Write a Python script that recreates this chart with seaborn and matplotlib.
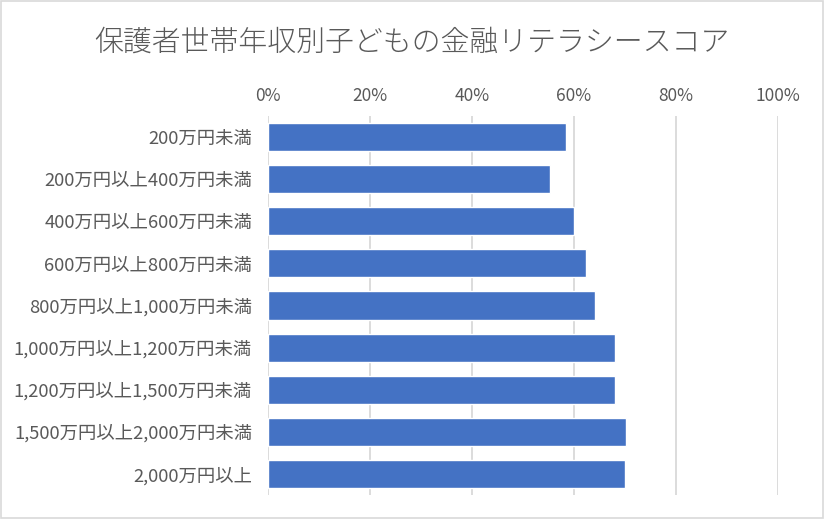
import pandas as pd
import seaborn as sns
import matplotlib.pyplot as plt
from matplotlib.ticker import PercentFormatter
from matplotlib.patches import Rectangle

# income brackets and scores
categories = [
    "200万円未満",
    "200万円以上400万円未満",
    "400万円以上600万円未満",
    "600万円以上800万円未満",
    "800万円以上1,000万円未満",
    "1,000万円以上1,200万円未満",
    "1,200万円以上1,500万円未満",
    "1,500万円以上2,000万円未満",
    "2,000万円以上",
]
scores = [0.584, 0.553, 0.600, 0.624, 0.641, 0.680, 0.680, 0.702, 0.700]
xticks = [0, 0.2, 0.4, 0.6, 0.8, 1.0]

df = pd.DataFrame({"bracket": categories, "score": scores})

sns.set_theme(style="white")
plt.rcParams['font.family'] = ['Noto Sans CJK JP', 'DejaVu Sans']

fig = plt.figure(figsize=(8.24, 5.19), dpi=100)
ax = fig.add_axes([268 / 824, 1 - 495 / 519, 510 / 824, 379 / 519])

sns.barplot(data=df, x="score", y="bracket", orient="h", color="#4472C4",
            saturation=1, width=0.67, ax=ax)

ax.set_xlim(0, 1)
ax.set_xticks(xticks)
ax.xaxis.set_major_formatter(PercentFormatter(1.0, decimals=0))
ax.xaxis.tick_top()
ax.grid(axis="x", color="#D9D9D9", linewidth=1.3)
ax.set_axisbelow(True)
for s in ax.spines.values():
    s.set_visible(False)
ax.tick_params(axis="both", length=0, labelcolor="#595959")
ax.tick_params(axis="x", pad=8, labelsize=12.5)
ax.tick_params(axis="y", pad=11.5, labelsize=13.2)
ax.set_xlabel("")
ax.set_ylabel("")

fig.text(0.5, 1 - 42 / 519, "保護者世帯年収別子どもの金融リテラシースコア",
         ha="center", va="center", fontsize=20.8, color="#595959",
         fontweight="light")

# light outer border like the original chart frame
fig.patches.append(Rectangle((0.001, 0.001), 0.998, 0.998, transform=fig.transFigure,
                             fill=False, edgecolor="#D9D9D9", linewidth=1.2))

fig.savefig("out.png", dpi=100)
